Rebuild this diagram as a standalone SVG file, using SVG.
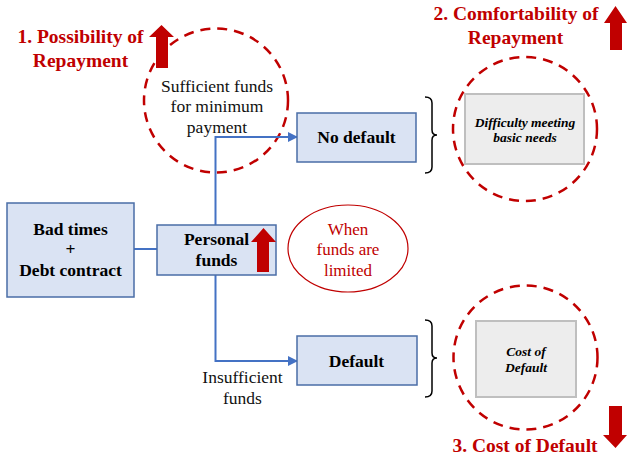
<svg xmlns="http://www.w3.org/2000/svg" width="627" height="457" viewBox="0 0 627 457" font-family="'Liberation Serif', 'Times New Roman', 'DejaVu Serif', serif">
<style>
.box{fill:#DAE3F3;stroke:#4A6DA7;stroke-width:1.5}
.gbox{fill:#EDEDED;stroke:#BFBFBF;stroke-width:2}
.dc{fill:none;stroke:#C00000;stroke-width:2.5;stroke-dasharray:10 7}
.conn{fill:none;stroke:#4472C4;stroke-width:2}
.br{fill:none;stroke:#000;stroke-width:1.5}
.ra{fill:#C00000}
text{text-anchor:middle}
.b{font-weight:bold;font-size:17.5px;fill:#000}
.r{font-size:17.5px;fill:#111}
.t{font-weight:bold;font-size:19.5px;fill:#C00000}
.i{font-weight:bold;font-style:italic;font-size:13.5px;fill:#000}
.red{font-size:17px;fill:#C00000}
</style>
<defs>
<marker id="ah" markerWidth="10" markerHeight="10" refX="9" refY="5" orient="auto" markerUnits="userSpaceOnUse">
<path d="M0,0 L10,5 L0,10 z" fill="#4472C4"/>
</marker>
</defs>

<g id="title1">
<text class="t" x="80.5" y="43">1. Possibility of</text>
<text class="t" x="80.5" y="67">Repayment</text>
<polygon class="ra" points="149,37 161.5,25 174,37 168,37 168,68 156,68 156,37"/>
</g>
<g id="title2">
<text class="t" x="516" y="20">2. Comfortability of</text>
<text class="t" x="515.5" y="44">Repayment</text>
<polygon class="ra" points="604,23 615.5,6 627,23 622,23 622,50 610,50 610,23"/>
</g>
<g id="title3">
<text class="t" x="525" y="452">3. Cost of Default</text>
<polygon class="ra" points="609,406 622,406 622,435 627,435 615.5,448 603,435 609,435"/>
</g>

<g id="circle1">
<circle class="dc" cx="216" cy="100.5" r="72"/>
<text class="r" x="217" y="92">Sufficient funds</text>
<text class="r" x="217" y="112">for minimum</text>
<text class="r" x="217" y="133">payment</text>
</g>

<g id="connectors">
<line class="conn" x1="134" y1="249" x2="157" y2="249"/>
<path class="conn" d="M215.5,225 V137 H297" marker-end="url(#ah)"/>
<path class="conn" d="M215.5,275 V361 H297" marker-end="url(#ah)"/>
</g>

<g id="badtimes">
<rect class="box" x="7" y="203" width="127" height="94"/>
<text class="b" x="70.5" y="235">Bad times</text>
<text class="b" x="70.5" y="255">+</text>
<text class="b" x="70.5" y="276">Debt contract</text>
</g>

<g id="personal">
<rect class="box" x="157" y="225" width="119" height="50"/>
<text class="b" x="216.5" y="245">Personal</text>
<text class="b" x="216.5" y="266">funds</text>
<polygon class="ra" points="251,242 263.5,228 276,242 269,242 269,272 257,272 257,242"/>
</g>

<g id="nodefault">
<rect class="box" x="297" y="113" width="119" height="49"/>
<text class="b" x="356.5" y="143">No default</text>
</g>

<g id="default">
<rect class="box" x="297" y="336" width="120" height="49"/>
<text class="b" x="356.5" y="367">Default</text>
</g>

<g id="insufficient">
<text class="r" x="242.5" y="383">Insufficient</text>
<text class="r" x="242.5" y="404">funds</text>
</g>

<g id="limited">
<ellipse cx="348" cy="248.5" rx="60" ry="43.5" fill="none" stroke="#C00000" stroke-width="1.2"/>
<text class="red" x="348" y="235">When</text>
<text class="red" x="348" y="255">funds are</text>
<text class="red" x="348" y="276">limited</text>
</g>

<g id="bracket1">
<path class="br" d="M425,97 Q432,97 432,103 V130 Q432,135 437,135 Q432,135 432,140 V167 Q432,173 425,173"/>
</g>
<g id="bracket2">
<path class="br" d="M425,320 Q432,320 432,326 V353 Q432,358 437,358 Q432,358 432,363 V391 Q432,397 425,397"/>
</g>

<g id="difficulty">
<circle class="dc" cx="525" cy="129" r="72"/>
<rect class="gbox" x="465" y="94" width="119" height="70"/>
<text class="i" x="525" y="127">Difficulty meeting</text>
<text class="i" x="525" y="142">basic needs</text>
</g>

<g id="cost">
<circle class="dc" cx="525.5" cy="357.5" r="72"/>
<rect class="gbox" x="476" y="321" width="100" height="76"/>
<text class="i" x="526" y="356">Cost of</text>
<text class="i" x="526" y="372">Default</text>
</g>
</svg>
